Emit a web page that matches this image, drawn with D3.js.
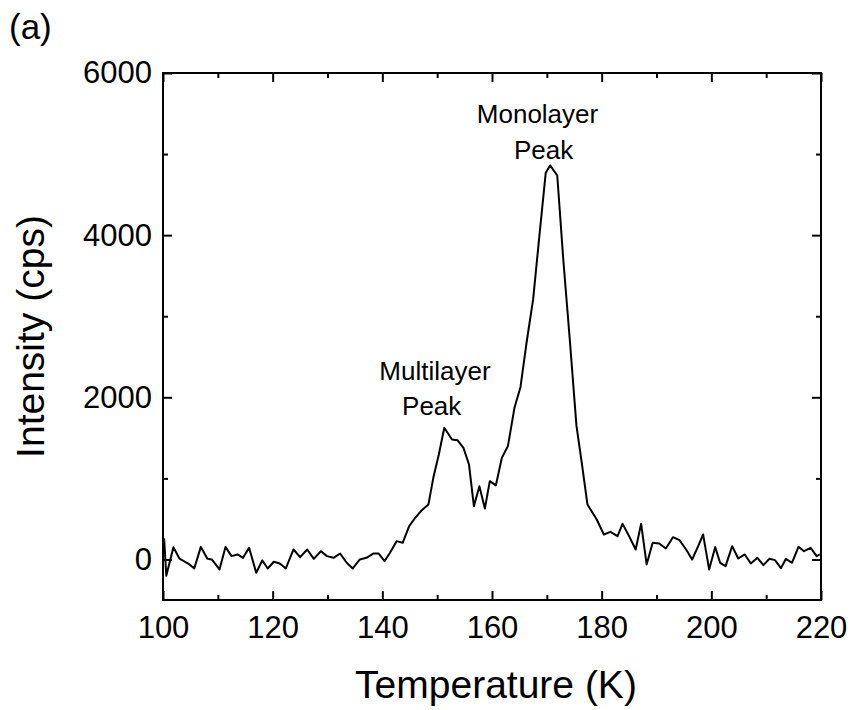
<!DOCTYPE html>
<html>
<head>
<meta charset="utf-8">
<script src="https://cdn.jsdelivr.net/npm/d3@7"></script>
<style>
  body { margin: 0; background: #fff; }
  svg text { font-family: "Liberation Sans", Arial, sans-serif; fill: #000; }
</style>
</head>
<body>
<div id="chart"></div>
<script>
// TPD trace
const temps = [100.2, 100.6, 101.9, 103.0, 104.6, 105.7, 106.9, 108.1, 108.9, 110.3,
  111.4, 112.5, 113.6, 114.6, 115.7, 117.0, 118.1, 119.1, 120.2, 121.3,
  122.4, 123.8, 125.0, 126.3, 127.5, 128.8, 129.9, 131.1, 132.3, 133.5,
  134.6, 135.9, 137.1, 138.4, 139.3, 140.4, 141.4, 142.6, 143.7, 144.9,
  146.0, 147.2, 148.4, 149.3, 150.3, 151.3, 152.7, 153.7, 154.8, 155.8,
  156.7, 157.7, 158.7, 159.6, 160.7, 161.8, 162.9, 164.1, 165.2, 166.3,
  167.5, 168.8, 169.8, 170.6, 171.9, 173.0, 174.2, 175.4, 176.4, 177.4,
  179.1, 180.4, 181.6, 182.9, 183.8, 185.0, 186.2, 187.2, 188.2, 189.3,
  190.5, 191.7, 193.0, 194.2, 195.4, 196.5, 197.6, 198.5, 199.6, 200.7,
  201.6, 202.6, 203.8, 204.9, 206.1, 207.2, 208.4, 209.5, 210.6, 211.6,
  212.7, 213.6, 214.7, 215.9, 216.9, 218.1, 219.2, 219.8];
const counts = [260, -200, 150, 10, -50, -110, 155, 8, 0, -123,
  155, 41, 62, 20, 144, -164, -12, -111, -28, -49,
  -111, 123, 28, 123, 8, 102, 41, 20, 74, -41,
  -111, 0, 20, 74, 74, -21, 82, 226, 206, 411,
  514, 608, 678, 1007, 1295, 1624, 1480, 1471, 1377, 1172,
  658, 904, 629, 966, 913, 1254, 1398, 1871, 2128, 2673,
  3207, 4100, 4769, 4860, 4736, 3700, 2700, 1650, 1180, 678,
  493, 308, 341, 288, 440, 288, 123, 440, -62, 206,
  197, 136, 275, 238, 123, 0, 164, 308, -123, 152,
  -41, -82, 164, 12, 62, -49, 20, -70, 8, -8,
  -107, 8, -41, 156, 102, 144, 41, 62];

const xMajor = [100, 120, 140, 160, 180, 200, 220];
const xMinor = [110, 130, 150, 170, 190, 210];
const yMajor = [0, 2000, 4000, 6000];
const yMinor = [1000, 3000, 5000];

// annotation lines: text, centre temperature, baseline intensity
const notes = [
  ['Multilayer', 149.6, 2210],
  ['Peak', 149.0, 1780],
  ['Monolayer', 168.3, 5380],
  ['Peak', 169.4, 4940]
];

const W = 851, H = 710;
const margin = { left: 163, right: 30, top: 73, bottom: 110 };

const svg = d3.select('#chart')
  .append('svg')
  .attr('width', W)
  .attr('height', H);

const x = d3.scaleLinear().domain([100, 220]).range([margin.left, W - margin.right]);
const y = d3.scaleLinear().domain([-500, 6000]).range([H - margin.bottom, margin.top]);

const x0 = x.range()[0], x1 = x.range()[1];
const y0 = y.range()[0], y1 = y.range()[1];

// data line, clipped to frame
svg.append('clipPath').attr('id', 'clip')
  .append('rect')
  .attr('x', x0).attr('y', y1)
  .attr('width', x1 - x0).attr('height', y0 - y1);

const pts = temps.map((t, i) => [t, counts[i]]);
svg.append('path')
  .datum(pts)
  .attr('clip-path', 'url(#clip)')
  .attr('fill', 'none')
  .attr('stroke', '#000')
  .attr('stroke-width', 2)
  .attr('stroke-linejoin', 'round')
  .attr('d', d3.line().x(d => x(d[0])).y(d => y(d[1])));

// axes: ticks inward, mirrored on all four sides
function addAxis(axisFn, scale, pos, values, len, pad) {
  const ax = axisFn(scale)
    .tickValues(values)
    .tickSizeInner(-len)
    .tickSizeOuter(0)
    .tickPadding(pad || 0)
    .tickFormat(pad ? d3.format('d') : '');
  const g = svg.append('g').attr('transform', pos).call(ax);
  g.select('.domain').remove();
  g.selectAll('.tick line').attr('stroke', '#000').attr('stroke-width', 2);
  g.selectAll('.tick text')
    .attr('font-size', 31)
    .attr('font-family', '"Liberation Sans", Arial, sans-serif');
  return g;
}

addAxis(d3.axisBottom, x, `translate(0,${y0})`, xMajor, 9, 16);
addAxis(d3.axisBottom, x, `translate(0,${y0})`, xMinor, 5);
addAxis(d3.axisTop, x, `translate(0,${y1})`, xMajor, 9);
addAxis(d3.axisTop, x, `translate(0,${y1})`, xMinor, 5);
addAxis(d3.axisLeft, y, `translate(${x0},0)`, yMajor, 9, 11);
addAxis(d3.axisLeft, y, `translate(${x0},0)`, yMinor, 5);
addAxis(d3.axisRight, y, `translate(${x1},0)`, yMajor, 9);
addAxis(d3.axisRight, y, `translate(${x1},0)`, yMinor, 5);

// frame
svg.append('rect')
  .attr('x', x0).attr('y', y1)
  .attr('width', x1 - x0).attr('height', y0 - y1)
  .attr('fill', 'none')
  .attr('stroke', '#000')
  .attr('stroke-width', 2);

// axis titles
svg.append('text')
  .attr('x', 496)
  .attr('y', 698)
  .attr('text-anchor', 'middle')
  .attr('font-size', 39)
  .text('Temperature (K)');

svg.append('text')
  .attr('transform', `translate(44,${(y0 + y1) / 2}) rotate(-90)`)
  .attr('text-anchor', 'middle')
  .attr('font-size', 39)
  .text('Intensity (cps)');

// panel label
svg.append('text')
  .attr('x', 9)
  .attr('y', 39)
  .attr('font-size', 35)
  .text('(a)');

// peak annotations
svg.selectAll('.note')
  .data(notes)
  .join('text')
  .attr('class', 'note')
  .attr('text-anchor', 'middle')
  .attr('font-size', 26)
  .attr('x', d => x(d[1]))
  .attr('y', d => y(d[2]))
  .text(d => d[0]);
</script>
</body>
</html>
